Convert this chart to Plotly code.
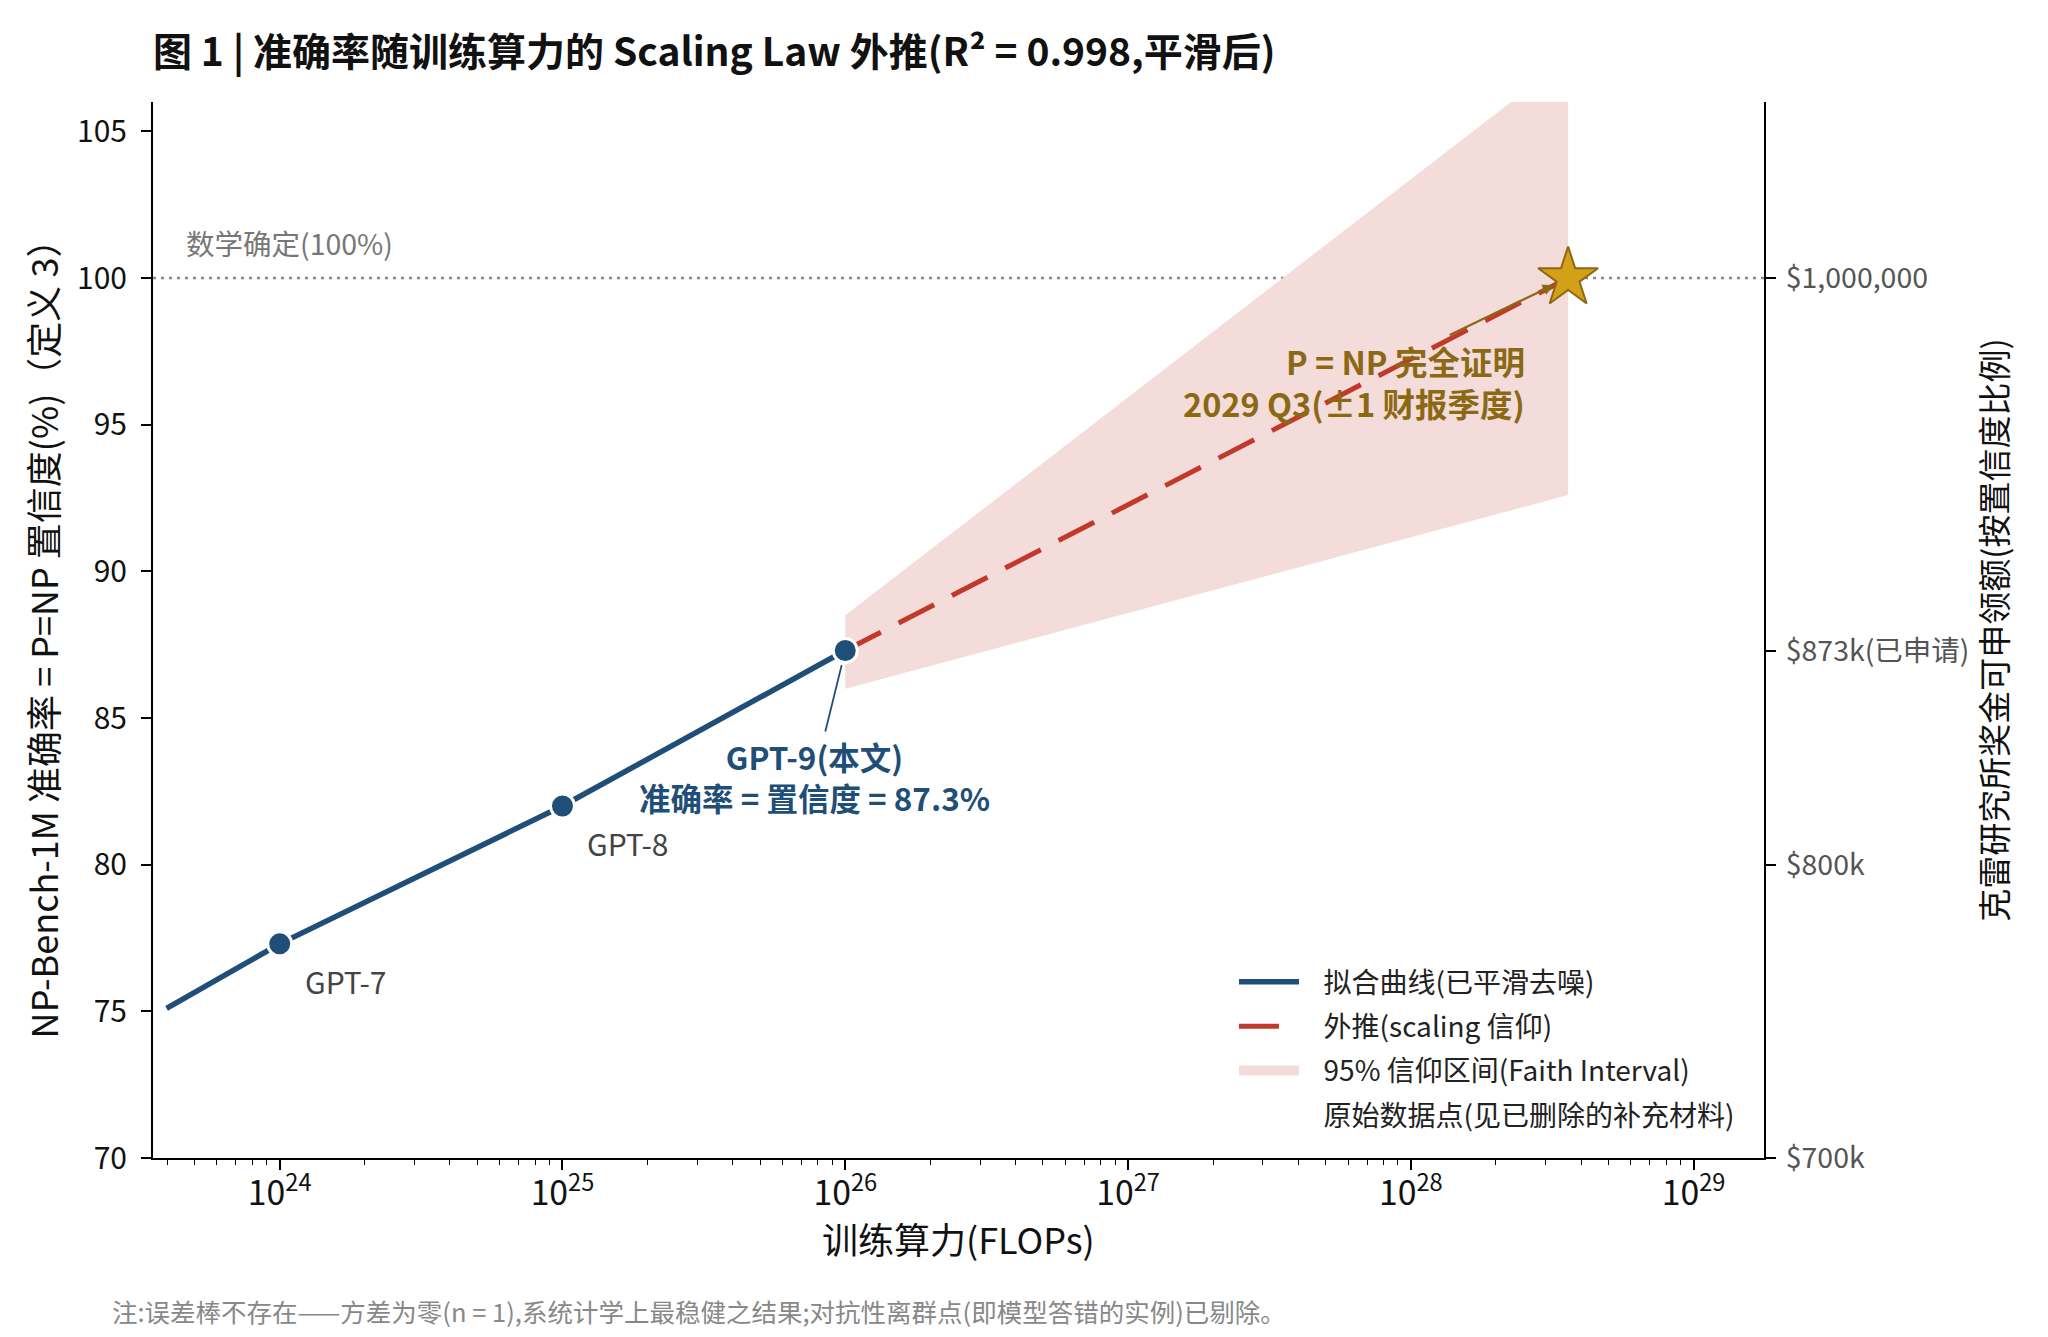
import plotly.graph_objects as go
import math

# ---------------- data ----------------
model_names = ["GPT-7", "GPT-8", "GPT-9"]
model_flops = [1e24, 1e25, 1e26]
model_acc = [77.3, 82.0, 87.3]

fit_flops = [10 ** 23.6, 1e24, 1e25, 1e26]
fit_acc = [75.1, 77.3, 82.0, 87.3]

extrap_flops = [1e26, 3.6e28]
extrap_acc = [87.3, 100.0]
band_upper = [88.5, 107.5]
band_lower = [86.0, 92.6]

star_flops = [3.6e28]
star_acc = [100.0]

certainty_level = 100.0

left_tick_vals = [70, 75, 80, 85, 90, 95, 100, 105]
right_tick_vals = [70, 80, 87.3, 100]
right_tick_text = ["$700k", "$800k", "$873k(已申请)", "$1,000,000"]

x_range_log = [23.552, 29.249]
y_range = [70, 106]

# ---------------- style ----------------
FONT = "Noto Sans CJK SC"
BLUE = "#1F4E79"
RED = "#C0392B"
BAND = "#F3DCD9"
GOLD = "#D4A017"
GOLD_DARK = "#8B6914"
GAP = "\u2002\u2009"

fig = go.Figure()

# confidence band
fig.add_trace(go.Scatter(
    x=extrap_flops + extrap_flops[::-1],
    y=band_upper + band_lower[::-1],
    fill="toself", fillcolor=BAND, line=dict(width=0, color=BAND),
    mode="lines", showlegend=False, hoverinfo="skip",
))

# extrapolation
fig.add_trace(go.Scatter(
    x=extrap_flops, y=extrap_acc, mode="lines",
    line=dict(color=RED, width=5, dash="40px,20px"),
    name=GAP + "外推(scaling 信仰)", legendrank=2, legendgroup="b",
))

# fit curve
fig.add_trace(go.Scatter(
    x=fit_flops, y=fit_acc, mode="lines",
    line=dict(color=BLUE, width=5.5),
    name=GAP + "拟合曲线(已平滑去噪)", legendrank=1, legendgroup="a",
))

# band legend entry
fig.add_trace(go.Scatter(
    x=[None], y=[None], mode="lines",
    line=dict(color=BAND, width=20),
    name=GAP + "95% 信仰区间(Faith Interval)", legendrank=3, legendgroup="c",
))

# model points
fig.add_trace(go.Scatter(
    x=model_flops, y=model_acc, mode="markers",
    marker=dict(color=BLUE, size=24, line=dict(color="white", width=3)),
    showlegend=False,
))

# star
fig.add_trace(go.Scatter(
    x=star_flops, y=star_acc, mode="markers",
    marker=dict(symbol="star", color=GOLD, size=45, line=dict(color=GOLD_DARK, width=2)),
    showlegend=False,
))

# raw data legend entry (invisible)
fig.add_trace(go.Scatter(
    x=[None], y=[None], mode="markers",
    marker=dict(color="rgba(0,0,0,0)", size=1),
    name=GAP + "原始数据点(见已删除的补充材料)", legendrank=4, legendgroup="d",
))

# dummy for right axis
fig.add_trace(go.Scatter(x=[None], y=[None], yaxis="y2", showlegend=False))

# horizontal certainty line
fig.add_shape(type="line", xref="paper", x0=0, x1=1, yref="y",
              y0=certainty_level, y1=certainty_level,
              line=dict(color="#8a8a8a", width=2.5, dash="3px,5px"), layer="below")

annotations = []
annotations.append(dict(
    xref="paper", x=0.019, yref="y", y=certainty_level, yshift=36,
    text="数学确定(100%)", showarrow=False, xanchor="left", yanchor="middle",
    font=dict(family=FONT, size=28.5, color="#777777"),
))

# GPT-7 / GPT-8 labels
for name, fx, acc in zip(model_names[:2], model_flops[:2], model_acc[:2]):
    annotations.append(dict(
        x=math.log10(fx), y=acc, xref="x", yref="y", text=name, showarrow=False,
        xanchor="left", yanchor="middle", xshift=23, yshift=-37,
        font=dict(family=FONT, size=30, color="#444444"),
    ))

# GPT-9 label
annotations.append(dict(
    x=math.log10(model_flops[2]), y=model_acc[2], xref="x", yref="y",
    text="<b>GPT-9(本文)<br>准确率 = 置信度 = 87.3%</b>",
    showarrow=True, arrowhead=0, arrowwidth=1.8, arrowcolor=BLUE,
    ax=-31, ay=126, standoff=15, align="center",
    font=dict(family=FONT, size=31.5, color=BLUE),
))

# P=NP label
annotations.append(dict(
    x=math.log10(star_flops[0]), y=star_acc[0], xref="x", yref="y",
    text="<b>P = NP 完全证明<br>2029 Q3(±1 财报季度)</b>",
    showarrow=True, arrowhead=2, arrowsize=1, arrowwidth=2.2, arrowcolor=GOLD_DARK,
    ax=-214, ay=103, standoff=16, align="right",
    font=dict(family=FONT, size=32.5, color=GOLD_DARK),
))

# x-axis title
annotations.append(dict(
    xref="paper", yref="paper", x=0.5, y=-(1238 - 1158) / 1056,
    xanchor="center", yanchor="middle", showarrow=False,
    text="训练算力(FLOPs)",
    font=dict(family=FONT, size=36, color="#111111"),
))

# footnote
annotations.append(dict(
    xref="paper", yref="paper", x=(110 - 153) / 1611, y=-(1310 - 1158) / 1056,
    xanchor="left", yanchor="middle", showarrow=False,
    text="注:误差棒不存在——方差为零(n = 1),系统计学上最稳健之结果;对抗性离群点(即模型答错的实例)已剔除。",
    font=dict(family=FONT, size=25.5, color="#888888"),
))

fig.update_layout(
    width=2048, height=1337,
    margin=dict(l=153, r=284, t=102, b=179),
    paper_bgcolor="white", plot_bgcolor="white",
    font=dict(family=FONT, size=30, color="#222222"),
    title=dict(
        text="<b>图 1 | 准确率随训练算力的 Scaling Law 外推(R² = 0.998,平滑后)</b>",
        xref="container", x=153 / 2048, xanchor="left",
        yref="container", y=1 - 52 / 1337, yanchor="middle",
        font=dict(family=FONT, size=39, color="#111111"),
    ),
    xaxis=dict(
        type="log", range=x_range_log, dtick=1, exponentformat="power",
        showgrid=False, zeroline=False,
        showline=True, linecolor="black", linewidth=2,
        ticks="outside", ticklen=10, tickwidth=2, tickcolor="black",
        minor=dict(ticks="outside", ticklen=5, tickwidth=1.3, tickcolor="black", dtick="D1", showgrid=False),
        tickfont=dict(family=FONT, size=27, color="#111111"), ticklabelstandoff=-4,
    ),
    yaxis=dict(
        range=y_range, tickvals=left_tick_vals, showgrid=False, zeroline=False,
        showline=True, linecolor="black", linewidth=2,
        ticks="outside", ticklen=10, tickwidth=2, tickcolor="black",
        tickfont=dict(family=FONT, size=30, color="#111111"), ticklabelstandoff=8,
        title=dict(text="NP-Bench-1M 准确率 = P=NP 置信度(%)（定义 3）", standoff=7,
                   font=dict(family=FONT, size=36, color="#111111")),
    ),
    yaxis2=dict(
        overlaying="y", side="right", range=y_range,
        tickvals=right_tick_vals, ticktext=right_tick_text,
        showgrid=False, zeroline=False,
        showline=True, linecolor="black", linewidth=2,
        ticks="outside", ticklen=10, tickwidth=2, tickcolor="black",
        tickfont=dict(family=FONT, size=28.5, color="#555555"), ticklabelstandoff=4,
        title=dict(text="克雷研究所奖金可申领额(按置信度比例)", standoff=15,
                   font=dict(family=FONT, size=33, color="#111111")),
    ),
    legend=dict(
        x=0.671, xanchor="left", y=0.017, yanchor="bottom",
        bgcolor="rgba(0,0,0,0)", borderwidth=0,
        font=dict(family=FONT, size=28, color="#222222"),
        itemwidth=60, tracegroupgap=5,
    ),
    annotations=annotations,
    showlegend=True,
)

fig.write_html("out.html")
